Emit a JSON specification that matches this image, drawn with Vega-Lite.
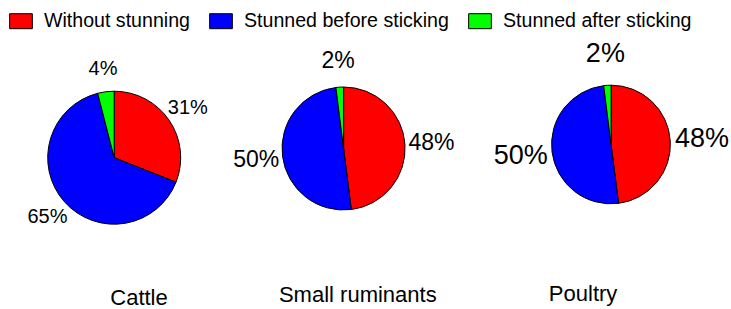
{
  "$schema": "https://vega.github.io/schema/vega-lite/v6.json",
  "padding": {"left": 0, "top": 9, "right": 0, "bottom": 0},
  "bounds": "flush",
  "spacing": 0,
  "config": {"view": {"stroke": null}, "font": "Liberation Sans"},
  "data": {"values": [
    {"animal": "Cattle", "category": "Without stunning", "share": 0.31},
    {"animal": "Cattle", "category": "Stunned before sticking", "share": 0.65},
    {"animal": "Cattle", "category": "Stunned after sticking", "share": 0.04},
    {"animal": "Small ruminants", "category": "Without stunning", "share": 0.48},
    {"animal": "Small ruminants", "category": "Stunned before sticking", "share": 0.50},
    {"animal": "Small ruminants", "category": "Stunned after sticking", "share": 0.02},
    {"animal": "Poultry", "category": "Without stunning", "share": 0.48},
    {"animal": "Poultry", "category": "Stunned before sticking", "share": 0.50},
    {"animal": "Poultry", "category": "Stunned after sticking", "share": 0.02}
  ]},
  "hconcat": [
    {
      "width": 228.4, "height": 197.4,
      "transform": [{"filter": "datum.animal === 'Cattle'"}],
      "title": {"text": "Cattle", "orient": "bottom", "anchor": "middle", "frame": "group", "dx": 24.8, "offset": 48.5, "fontSize": 22, "font": "Liberation Sans", "fontWeight": "normal", "color": "black", "baseline": "alphabetic"},
      "layer": [
        {"mark": {"type": "arc", "outerRadius": 66.5, "stroke": "black", "strokeWidth": 1},
         "encoding": {
           "theta": {"field": "share", "type": "quantitative", "stack": true},
           "order": {"field": "category", "type": "nominal", "sort": "descending"},
           "color": {"field": "category", "type": "nominal",
             "scale": {"domain": ["Without stunning", "Stunned before sticking", "Stunned after sticking"], "range": ["#ff0000", "#0000ff", "#00ff00"]},
             "legend": {"title": null, "orient": "none", "legendX": 9, "legendY": -50, "direction": "horizontal", "symbolType": "M-1,-0.66L1,-0.66L1,0.66L-1,0.66Z", "symbolSize": 515, "symbolStrokeColor": "black", "symbolStrokeWidth": 1, "labelFontSize": 19.6, "labelFont": "Liberation Sans", "labelColor": "black", "labelOffset": 11, "columnPadding": 17, "labelLimit": 400, "padding": 0}}
         }},
        {"mark": {"type": "text", "radius": 89, "fontSize": 20, "align": "center", "baseline": "middle", "color": "black"},
         "encoding": {
           "theta": {"field": "share", "type": "quantitative", "stack": true},
           "order": {"field": "category", "type": "nominal", "sort": "descending"},
           "detail": {"field": "category", "type": "nominal"},
           "text": {"field": "share", "type": "quantitative", "format": ".0%"}
         }}
      ]
    },
    {
      "width": 229.2, "height": 179,
      "transform": [{"filter": "datum.animal === 'Small ruminants'"}],
      "title": {"text": "Small ruminants", "orient": "bottom", "anchor": "middle", "frame": "group", "dx": 14.2, "offset": 64.3, "fontSize": 22, "font": "Liberation Sans", "fontWeight": "normal", "color": "black", "baseline": "alphabetic"},
      "layer": [
        {"mark": {"type": "arc", "outerRadius": 61.5, "stroke": "black", "strokeWidth": 1},
         "encoding": {
           "theta": {"field": "share", "type": "quantitative", "stack": true},
           "order": {"field": "category", "type": "nominal", "sort": "descending"},
           "color": {"field": "category", "type": "nominal",
             "scale": {"domain": ["Without stunning", "Stunned before sticking", "Stunned after sticking"], "range": ["#ff0000", "#0000ff", "#00ff00"]},
             "legend": {"title": null, "orient": "none", "legendX": 9, "legendY": -50, "direction": "horizontal", "symbolType": "M-1,-0.66L1,-0.66L1,0.66L-1,0.66Z", "symbolSize": 515, "symbolStrokeColor": "black", "symbolStrokeWidth": 1, "labelFontSize": 19.6, "labelFont": "Liberation Sans", "labelColor": "black", "labelOffset": 11, "columnPadding": 17, "labelLimit": 400, "padding": 0}}
         }},
        {"mark": {"type": "text", "radius": 88, "fontSize": 23, "align": "center", "baseline": "middle", "color": "black"},
         "encoding": {
           "theta": {"field": "share", "type": "quantitative", "stack": true},
           "order": {"field": "category", "type": "nominal", "sort": "descending"},
           "detail": {"field": "category", "type": "nominal"},
           "text": {"field": "share", "type": "quantitative", "format": ".0%"}
         }}
      ]
    },
    {
      "width": 304.2, "height": 171,
      "transform": [{"filter": "datum.animal === 'Poultry'"}],
      "title": {"text": "Poultry", "orient": "bottom", "anchor": "middle", "frame": "group", "dx": -28, "offset": 70.7, "fontSize": 22, "font": "Liberation Sans", "fontWeight": "normal", "color": "black", "baseline": "alphabetic"},
      "layer": [
        {"mark": {"type": "arc", "outerRadius": 59.3, "stroke": "black", "strokeWidth": 1},
         "encoding": {
           "theta": {"field": "share", "type": "quantitative", "stack": true},
           "order": {"field": "category", "type": "nominal", "sort": "descending"},
           "color": {"field": "category", "type": "nominal",
             "scale": {"domain": ["Without stunning", "Stunned before sticking", "Stunned after sticking"], "range": ["#ff0000", "#0000ff", "#00ff00"]},
             "legend": {"title": null, "orient": "none", "legendX": 9, "legendY": -50, "direction": "horizontal", "symbolType": "M-1,-0.66L1,-0.66L1,0.66L-1,0.66Z", "symbolSize": 515, "symbolStrokeColor": "black", "symbolStrokeWidth": 1, "labelFontSize": 19.6, "labelFont": "Liberation Sans", "labelColor": "black", "labelOffset": 11, "columnPadding": 17, "labelLimit": 400, "padding": 0}}
         }},
        {"mark": {"type": "text", "radius": 91, "fontSize": 27, "align": "center", "baseline": "middle", "color": "black"},
         "encoding": {
           "theta": {"field": "share", "type": "quantitative", "stack": true},
           "order": {"field": "category", "type": "nominal", "sort": "descending"},
           "detail": {"field": "category", "type": "nominal"},
           "text": {"field": "share", "type": "quantitative", "format": ".0%"}
         }}
      ]
    }
  ]
}
